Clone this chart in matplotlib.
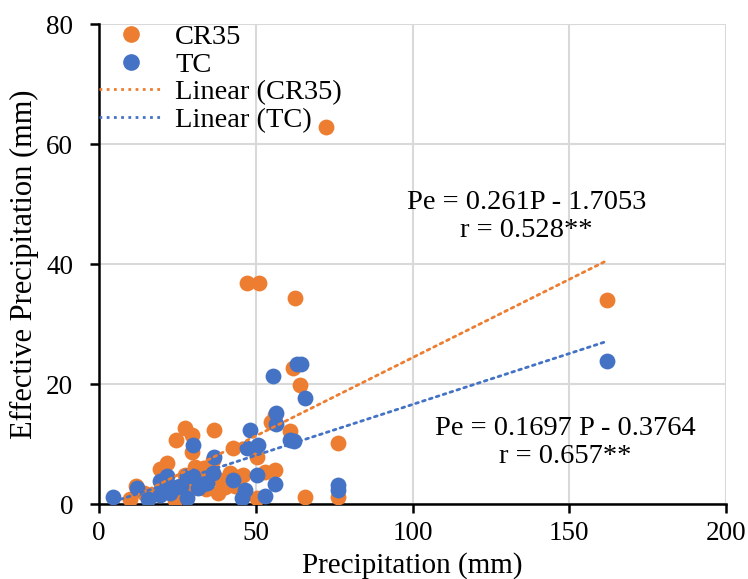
import matplotlib
matplotlib.use("Agg")
import matplotlib.pyplot as plt
import numpy as np
from matplotlib.lines import Line2D

plt.rcParams['font.family'] = ['Liberation Serif', 'DejaVu Serif']

# CR35 series (precipitation mm, effective precipitation mm)
cr35_p = [9.9, 11.7, 14.4, 17.0, 19.4, 21.6, 24.2, 24.5, 25.0, 27.4, 27.4, 28.5,
          29.5, 29.5, 30.6, 31.0, 32.0, 33.5, 34.0, 35.0, 36.4, 36.7, 38.0, 38.5,
          40.2, 41.8, 42.8, 43.5, 44.0, 46.0, 47.1, 50.3, 50.3, 51.1, 52.9, 55.0,
          56.1, 56.1, 60.9, 61.9, 62.5, 64.1, 65.7, 72.4, 76.3, 76.3, 162.0]
cr35_pe = [0.8, 3.0, 1.8, 1.5, 5.9, 6.8, 0.7, 10.7, 2.0, 12.6, 4.8, 2.0,
           11.5, 8.7, 6.2, 3.5, 4.5, 6.0, 2.5, 5.0, 7.4, 12.3, 1.8, 4.0,
           2.9, 5.1, 9.3, 3.0, 4.5, 4.8, 36.8, 7.9, 0.95, 36.8, 5.4, 13.7,
           14.8, 5.7, 12.1, 22.6, 34.4, 19.8, 1.2, 62.8, 10.1, 1.2, 34.0]

# TC series
tc_p = [4.6, 12.0, 15.5, 19.4, 19.4, 20.5, 21.6, 22.6, 24.8, 26.0, 28.0, 28.0,
        30.1, 30.1, 31.7, 33.3, 34.5, 36.4, 36.7, 42.8, 45.7, 46.5, 47.1, 48.1,
        50.3, 50.8, 53.0, 55.5, 56.1, 56.4, 56.6, 60.9, 62.2, 63.0, 64.5, 65.7,
        76.3, 76.3, 162.0]
tc_pe = [1.1, 2.7, 0.9, 1.5, 3.8, 3.7, 4.6, 1.8, 2.9, 3.0, 4.6, 1.0,
         4.6, 9.8, 2.6, 3.3, 3.5, 5.1, 7.9, 4.0, 0.95, 2.4, 9.3, 12.3,
         4.8, 9.8, 1.3, 21.4, 3.4, 13.4, 15.2, 10.6, 10.5, 23.3, 23.3, 17.6,
         3.2, 2.4, 23.9]

# Trend line coefficients (from the equations shown)
cr35_slope, cr35_icpt = 0.261, -1.7053
tc_slope, tc_icpt = 0.1697, -0.3764

orange = '#ED7D31'
blue = '#4472C4'

fig = plt.figure(figsize=(7.48, 5.79), dpi=100)
ax = fig.add_axes([0.1324, 0.1295, 0.8382, 0.829])

ax.scatter(cr35_p, cr35_pe, s=130, color=orange, zorder=3, linewidths=0)
ax.scatter(tc_p, tc_pe, s=130, color=blue, zorder=4, linewidths=0)

dot = (0, (1, 1.6))
xo = np.array([min(cr35_p), max(cr35_p)])
ax.plot(xo, cr35_slope * xo + cr35_icpt, color=orange, lw=2.0,
        linestyle=dot, dash_capstyle='round', zorder=5)
xb = np.array([min(tc_p), max(tc_p)])
ax.plot(xb, tc_slope * xb + tc_icpt, color=blue, lw=2.0,
        linestyle=dot, dash_capstyle='round', zorder=5)

ax.set_xlim(0, 200)
ax.set_ylim(0, 80)
ax.set_xticks([0, 50, 100, 150, 200])
ax.set_yticks([0, 20, 40, 60, 80])
ax.grid(True, color='#D9D9D9', lw=1.5, zorder=0)
ax.set_axisbelow(True)
for s in ['top', 'right']:
    ax.spines[s].set_visible(False)
for s in ['left', 'bottom']:
    ax.spines[s].set_linewidth(1.8)
    ax.spines[s].set_color('black')
ax.tick_params(axis='both', direction='out', length=6.5, width=1.8,
               labelsize=19.5, colors='black')
ax.tick_params(axis='y', pad=12)
ax.tick_params(axis='x', pad=6)

ax.set_xlabel('Precipitation (mm)', fontsize=21, labelpad=4)
ax.set_ylabel('Effective Precipitation (mm)', fontsize=22, labelpad=5)

ax.text(136.4, 47.9, 'Pe = 0.261P - 1.7053\nr = 0.528**', ha='center', va='center',
        fontsize=20.5, linespacing=1.15)
ax.text(148.6, 10.25, 'Pe = 0.1697 P - 0.3764\nr = 0.657**', ha='center', va='center',
        fontsize=20.5, linespacing=1.15)

handles = [
    Line2D([], [], marker='o', linestyle='none', color=orange, markersize=11),
    Line2D([], [], marker='o', linestyle='none', color=blue, markersize=11),
    Line2D([], [], color=orange, lw=2.0, linestyle=dot),
    Line2D([], [], color=blue, lw=2.0, linestyle=dot),
]
labels = ['CR35', 'TC', 'Linear (CR35)', 'Linear (TC)']
ax.legend(handles, labels, loc='upper left', bbox_to_anchor=(0.0, 1.0),
          frameon=False, fontsize=20.5, handlelength=2.25, handletextpad=0.42,
          labelspacing=0.06, borderaxespad=0.0, borderpad=0.0)

fig.savefig('out.png', dpi=100)
